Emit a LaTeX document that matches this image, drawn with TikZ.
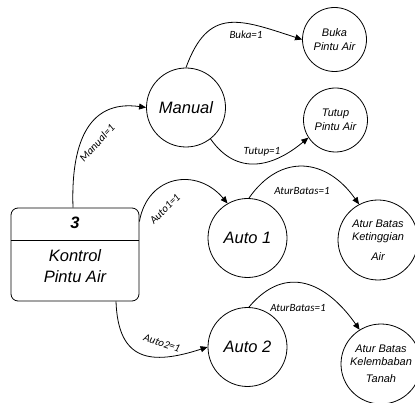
\documentclass[tikz,border=0pt]{standalone}
\usepackage{fontspec}
\setmainfont{Liberation Sans}
\newfontfamily\lblfont{Carlito}
\usetikzlibrary{arrows.meta}

\tikzset{
	state/.style={circle, draw, line width=0.8pt, inner sep=0pt, minimum size=79pt, font=\fontsize{16.5}{20}\selectfont\itshape, align=center},
	small/.style={circle, draw, line width=0.8pt, inner sep=0pt, minimum size=64pt, font=\fontsize{11}{13.5}\selectfont\itshape, align=center},
	leaf/.style={circle, draw, line width=0.8pt, inner sep=0pt, minimum size=80pt, font=\fontsize{11}{13}\selectfont\itshape, align=center},
	procbox/.style={draw, line width=0.8pt, rounded corners=7pt, minimum width=128pt, minimum height=93pt},
	lbl/.style={font=\lblfont\fontsize{11}{12}\selectfont\itshape, inner sep=0pt},
	flow/.style={line width=0.8pt, -{Triangle[length=7pt,width=6pt]}}
}

\begin{document}
\begin{tikzpicture}[x=1pt,y=-1pt]
	\useasboundingbox (0,0) rectangle (415,403);

	% process box
	\node[procbox] (box) at (75,254.5) {};
	\draw[line width=0.8pt] ([yshift=14.5pt]box.west) -- ([yshift=14.5pt]box.east);
	\node[font=\fontsize{16.5}{20}\selectfont\bfseries\itshape] (num) at (75,223) {3};
	\node[font=\fontsize{16.5}{21}\selectfont\itshape, align=center] (title) at (75,266) {Kontrol\\Pintu Air};

	% states
	\node[state] (manual) at (186,107.5) {Manual};
	\node[state] (auto1) at (247.5,238) {Auto 1};
	\node[state] (auto2) at (247.5,347) {Auto 2};

	% results
	\node[small] (buka) at (334.5,39.5) {Buka\\Pintu Air};
	\node[small] (tutup) at (335.5,120) {Tutup\\Pintu Air};
	\node[leaf] (tinggi) at (378,240) {Atur Batas\\Ketinggian\\[7pt]Air};
	\node[leaf] (lembab) at (381,364) {Atur Batas\\Kelembaban\\[4pt]Tanah};

	% flows
	\draw[flow] ([xshift=-2pt]box.north) to[out=92,in=172,looseness=1.25] (manual.west);
	\draw[flow] ([yshift=33pt]box.east) to[out=80,in=130,looseness=1.35] (auto1.120);
	\draw[flow] ([xshift=41pt]box.south) to[out=-88,in=198,looseness=1.5] (auto2.west);
	\draw[flow] (manual.north) to[out=70,in=162,looseness=1.4] (buka.west);
	\draw[flow] (manual.-52) to[out=-55,in=220,looseness=1.2] (tutup.213);
	\draw[flow] (auto1.88) to[out=55,in=125,looseness=1.3] (tinggi.118);
	\draw[flow] (auto2.88) to[out=50,in=125,looseness=1.3] (lembab.122);

	% labels
	\node[lbl, rotate=47] (lmanual) at (97,143) {Manual=1};
	\node[lbl, rotate=45] (lauto1) at (165,209) {Auto1=1};
	\node[lbl, rotate=-19] (lauto2) at (162,343) {Auto2=1};
	\node[lbl] (lbuka) at (246,35) {Buka=1};
	\node[lbl] (ltutup) at (262,152) {Tutup=1};
	\node[lbl] (ltinggi) at (302,191) {AturBatas=1};
	\node[lbl] (llembab) at (298,308) {AturBatas=1};

\end{tikzpicture}
\end{document}
